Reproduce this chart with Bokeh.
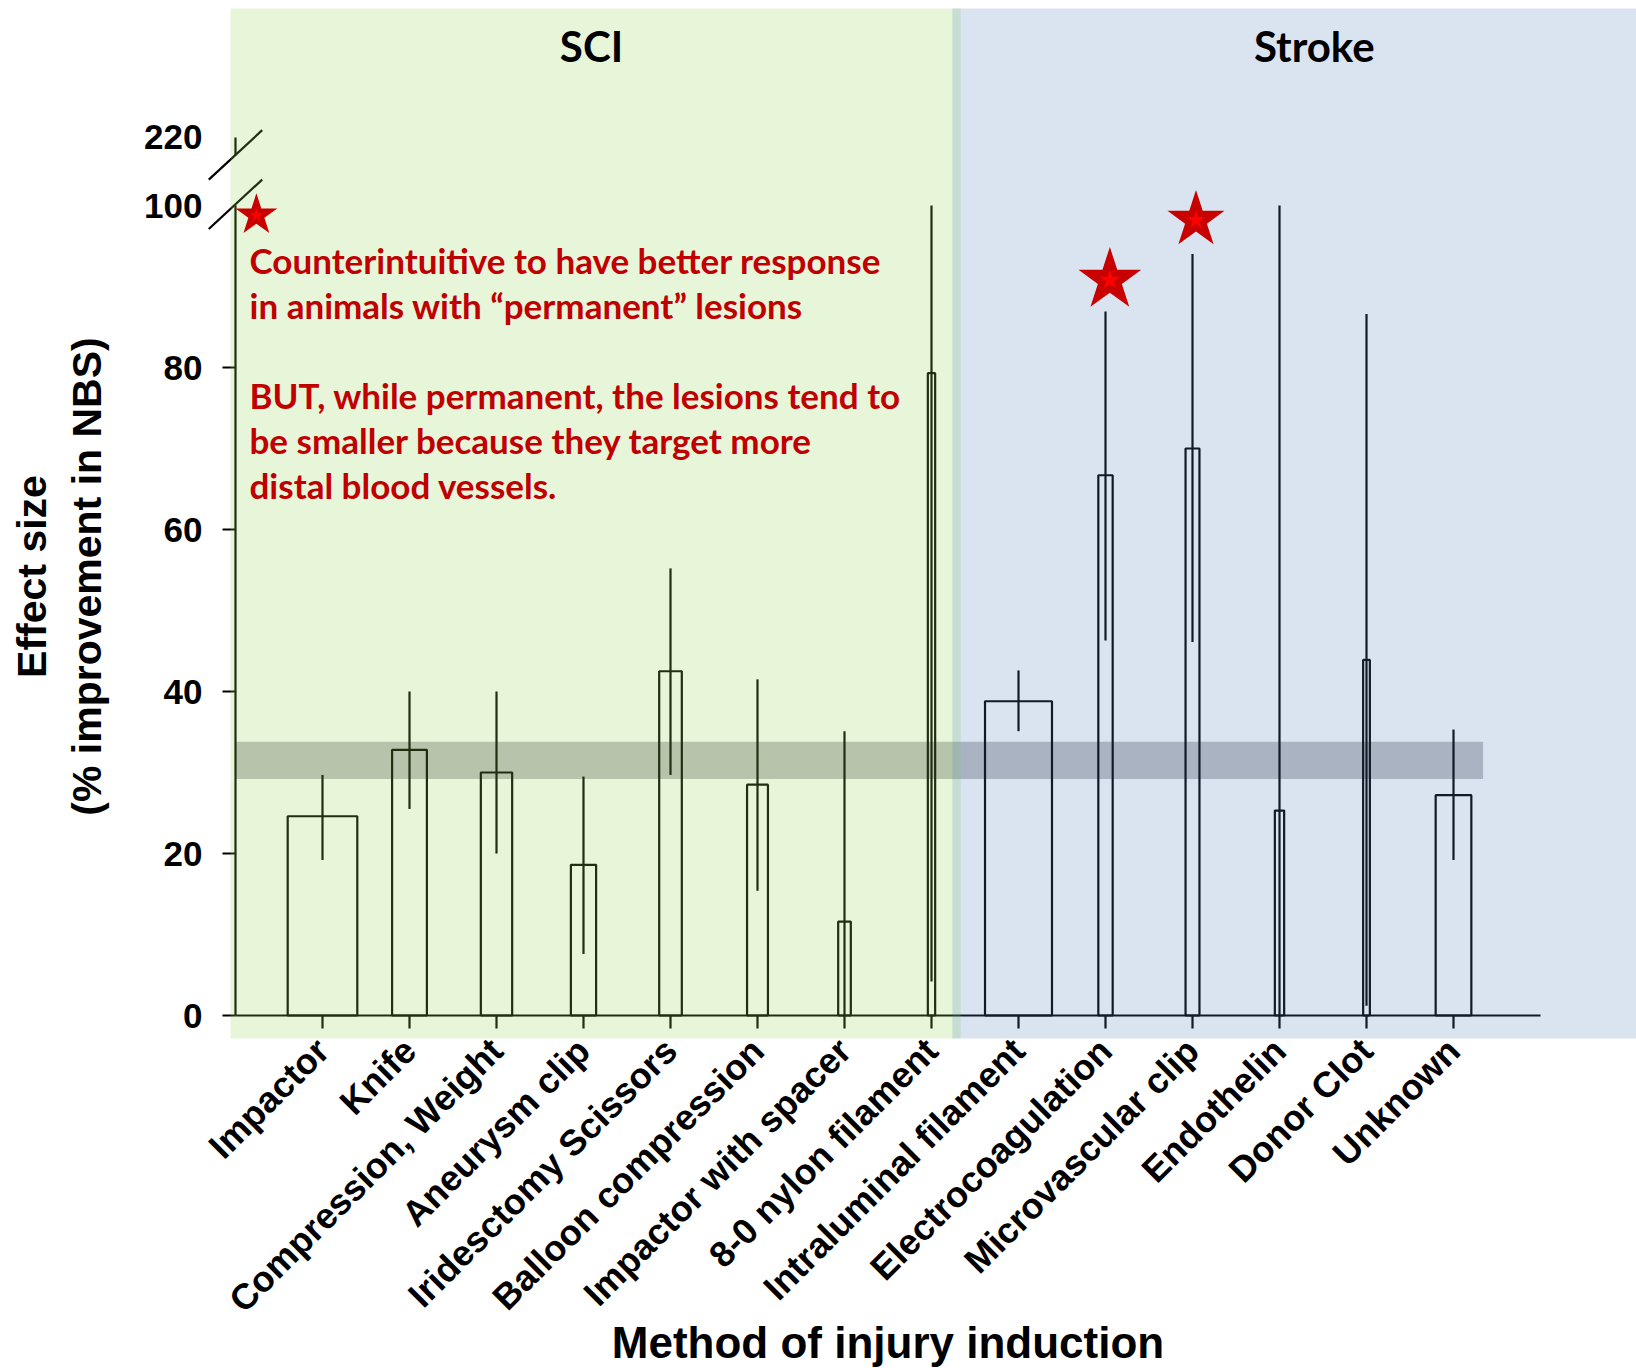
import math

from bokeh.core.properties import value
from bokeh.embed import file_html
from bokeh.models import FixedTicker, LinearAxis, Range1d
from bokeh.plotting import figure
from bokeh.resources import INLINE

# ---------------------------------------------------------------- data
methods = [
    "Impactor", "Knife", "Compression, Weight", "Aneurysm clip",
    "Iridesctomy Scissors", "Balloon compression", "Impactor with spacer",
    "8-0 nylon filament", "Intraluminal filament", "Electrocoagulation",
    "Microvascular clip", "Endothelin", "Donor Clot", "Unknown",
]
effect = [24.6, 32.8, 30.0, 18.6, 42.5, 28.5, 11.6, 79.3, 38.8, 66.7, 70.0, 25.3, 43.9, 27.2]
ci_low = [19.2, 25.5, 20.0, 7.6, 29.7, 15.4, 0.0, 4.2, 35.1, 46.3, 46.1, 0.0, 1.2, 19.2]
ci_high = [29.7, 40.0, 40.0, 29.5, 55.2, 41.5, 35.1, 100.0, 42.6, 86.9, 94.0, 100.0, 86.6, 35.3]
# bar width reflects the weight of each group
weight = [0.80, 0.40, 0.36, 0.29, 0.26, 0.24, 0.145, 0.084, 0.77, 0.165, 0.16, 0.107, 0.077, 0.41]

pooled_low, pooled_high = 29.2, 33.8      # pooled estimate band
groups = ["SCI", "Stroke"]
group_split = 7.29                         # boundary between the two groups

y_ticks = [0, 20, 40, 60, 80]
break_ticks = [100, 108.4]                 # axis is broken above 100
break_labels = ["100", "220"]

star_x = [-0.76, 9.05, 10.04]
star_y = [98.8, 90.8, 98.2]

note = ("Counterintuitive to have better response\n"
        "in animals with \u201cpermanent\u201d lesions\n"
        "\n"
        "BUT, while permanent, the lesions tend to\n"
        "be smaller because they target more\n"
        "distal blood vessels.")

# ---------------------------------------------------------------- figure
# the plotting frame spans the whole page so that the pinned axes are not clipped
p = figure(
    width=1636, height=1368,
    x_range=Range1d(-3.7011, 15.1034), y_range=Range1d(-43.58, 125.31),
    x_axis_type=None, y_axis_type=None,
    output_backend="svg", toolbar_location=None,
    min_border=0,
)
p.outline_line_color = None
p.background_fill_color = "white"
p.border_fill_color = "white"

AXIS_FONT = "Liberation Sans"
INK = "black"

xs = list(range(len(methods)))

# pooled band (beneath everything)
p.quad(left=-1, right=13.34, bottom=pooled_low, top=pooled_high,
       fill_color="#c1c1c4", line_color=None)

# bars (unfilled) and confidence intervals
p.quad(left=[x - w / 2 for x, w in zip(xs, weight)],
       right=[x + w / 2 for x, w in zip(xs, weight)],
       bottom=0, top=effect,
       fill_color=None, line_color=INK, line_width=2.2)
p.segment(x0=xs, y0=ci_low, x1=xs, y1=ci_high, line_color=INK, line_width=2.2)

# y axis break: upper stub and the two slashes
p.segment(x0=[-1], y0=[106.2], x1=[-1], y1=[break_ticks[1]], line_color=INK, line_width=2.2)
for yc in (break_ticks[0] + 0.15, 106.25):
    p.segment(x0=[-1.307], y0=[yc - 3.05], x1=[-0.693], y1=[yc + 3.05],
              line_color=INK, line_width=2.2)

# ---------------------------------------------------------------- axes
xaxis = LinearAxis(
    fixed_location=0, bounds=(-1, 14),
    ticker=FixedTicker(ticks=xs),
    major_label_overrides={i: m for i, m in enumerate(methods)},
    major_label_orientation=math.pi / 4,
    axis_label="Method of injury induction",
)
yaxis = LinearAxis(
    fixed_location=-1, bounds=(0, 100),
    ticker=FixedTicker(ticks=y_ticks),
)
ybreak = LinearAxis(
    fixed_location=-1, bounds=(0, break_ticks[1]),
    ticker=FixedTicker(ticks=break_ticks),
    major_label_overrides=dict(zip(break_ticks, break_labels)),
    axis_label="Effect size\n(% improvement in NBS)",
)
for ax in (xaxis, yaxis, ybreak):
    ax.axis_line_color = INK
    ax.axis_line_width = 2.2
    ax.major_tick_line_color = INK
    ax.major_tick_line_width = 2.2
    ax.major_tick_in = 0
    ax.major_tick_out = 13
    ax.minor_tick_line_color = None
    ax.major_label_text_font = AXIS_FONT
    ax.major_label_text_font_style = "bold"
    ax.major_label_text_color = INK
    ax.axis_label_text_font = AXIS_FONT
    ax.axis_label_text_font_style = "bold"
    ax.axis_label_text_color = INK

xaxis.major_label_text_font_size = "36px"
xaxis.major_label_standoff = 16
xaxis.axis_label_text_font_size = "44px"
xaxis.axis_label_text_line_height = 1.0
xaxis.axis_label_standoff = -20

yaxis.major_label_text_font_size = "35px"
yaxis.major_label_standoff = 20
ybreak.major_label_text_font_size = "35px"
ybreak.major_label_standoff = 20
ybreak.axis_line_color = None
ybreak.major_tick_line_color = None
ybreak.axis_label_text_font_size = "41px"
ybreak.axis_label_text_line_height = 1.2
ybreak.axis_label_standoff = 31

p.add_layout(xaxis, "below")
p.add_layout(yaxis, "left")
p.add_layout(ybreak, "left")

# ---------------------------------------------------------------- group shading
p.quad(left=-1.0575, right=group_split + 0.045, bottom=-2.84, top=124.32,
       fill_color="#92d050", fill_alpha=0.22, line_color=None, level="annotation")
p.quad(left=group_split - 0.05, right=15.2, bottom=-2.84, top=124.32,
       fill_color="#4f81bd", fill_alpha=0.21, line_color=None, level="annotation")

p.text(x=[3.092, 11.40], y=[119.65, 119.65], text=groups,
       text_font=value("Lato"), text_font_style="bold", text_font_size="42px",
       text_color="black", text_align="center", text_baseline="middle",
       level="annotation")

# ---------------------------------------------------------------- highlights
star_size = [44, 66, 60]
p.scatter(x=star_x, y=star_y, marker="star", size=star_size,
          fill_color="#c80000", line_color=None, level="annotation")
p.scatter(x=star_x, y=star_y, marker="star", size=[s * 0.32 for s in star_size],
          fill_color="#ff0000", line_color=None, level="annotation")

p.text(x=[-0.839], y=[95.92], text=[note],
       text_font=value("Lato"), text_font_style="bold", text_font_size="35px",
       text_color="#c00000", text_align="left", text_baseline="top",
       text_line_height=1.074, level="annotation")

open("out.html", "w").write(file_html(p, INLINE))
